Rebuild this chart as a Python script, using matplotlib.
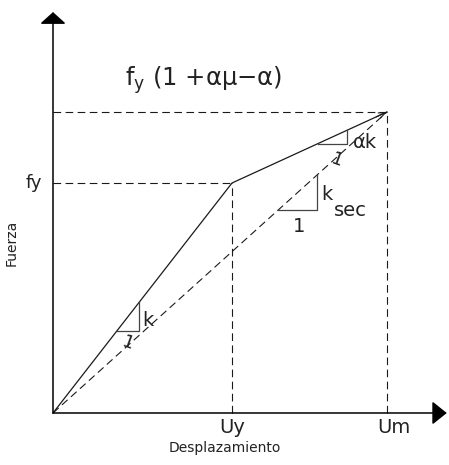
import matplotlib
matplotlib.use("Agg")
import matplotlib.pyplot as plt

# bilinear force-displacement idealisation (normalised: Uy = 1, fy = 1)
U_Y = 1.0
U_M = 1.866
F_Y = 1.0
F_M = 1.309
X_END = 2.20      # x-axis arrow tip
Y_END = 1.743     # y-axis arrow tip

K = F_Y / U_Y
ALPHA_K = (F_M - F_Y) / (U_M - U_Y)
K_SEC = F_M / U_M

INK = "#1a1a1a"
DASH = (5.5, 3.2)

plt.rcParams["lines.scale_dashes"] = False
plt.rcParams["font.family"] = ["DejaVu Sans"]

W, H, DPI = 449, 465, 100
fig = plt.figure(figsize=(W / DPI, H / DPI), dpi=DPI)
ax = fig.add_axes([0, 0, 1, 1])
# origin sits at pixel (53, 413); 179 px per unit in x, 230 px per unit in y
SX, SY, OX, OY = 179.0, 230.0, 53.0, 413.0
ax.set_xlim(-OX / SX, (W - OX) / SX)
ax.set_ylim(-(H - OY) / SY, OY / SY)
ax.set_axis_off()

# axes with arrowheads
ax.annotate("", xy=(0, Y_END), xytext=(0, 0),
            arrowprops=dict(arrowstyle="-|>,head_length=0.36,head_width=0.40",
                            color="black", lw=1.1, mutation_scale=20, shrinkA=0, shrinkB=0))
ax.annotate("", xy=(X_END, 0), xytext=(0, 0),
            arrowprops=dict(arrowstyle="-|>,head_length=0.45,head_width=0.36",
                            color="black", lw=1.1, mutation_scale=20, shrinkA=0, shrinkB=0))

# guide lines
ax.plot([0, U_Y], [F_Y, F_Y], color=INK, lw=0.8, dashes=DASH)
ax.plot([U_Y, U_Y], [0, F_Y], color=INK, lw=0.8, dashes=DASH)
ax.plot([0, U_M], [F_M, F_M], color=INK, lw=0.8, dashes=DASH)
ax.plot([U_M, U_M], [0, F_M], color=INK, lw=0.8, dashes=DASH)
ax.plot([0, U_M], [0, F_M], color=INK, lw=0.8, dashes=DASH)   # secant

# bilinear curve
ax.plot([0, U_Y, U_M], [0, F_Y, F_M], color=INK, lw=0.9)
ax.annotate("", xy=(U_M, F_M), xytext=(U_M - 0.06, F_M - 0.06 * ALPHA_K),
            arrowprops=dict(arrowstyle="->,head_length=0.5,head_width=0.2",
                            color=INK, lw=0.8, mutation_scale=10, shrinkA=0, shrinkB=0))


def slope_tri(x0, dx, y0, slope):
    ax.plot([x0, x0 + dx, x0 + dx], [y0, y0, y0 + slope * dx], color="#444444", lw=0.9)


slope_tri(0.356, 0.126, 0.356 * K, K)
slope_tri(1.480, 0.164, F_Y + ALPHA_K * (1.480 - U_Y), ALPHA_K)
slope_tri(1.259, 0.218, 1.259 * K_SEC, K_SEC)

tc = "#222222"
ax.text(0.497, 0.404, "k", fontsize=14, color=tc, ha="left", va="center")
ax.text(0.419, 0.304, "1", fontsize=13, color=tc, ha="center", va="center", rotation=-20)
ax.text(1.676, 1.178, "αk", fontsize=14, color=tc, ha="left", va="center")
ax.text(1.587, 1.098, "1", fontsize=13, color=tc, ha="center", va="center", rotation=-20)
ax.text(1.497, 0.950, "k", fontsize=14, color=tc, ha="left", va="center")
ax.text(1.570, 0.880, "sec", fontsize=14, color=tc, ha="left", va="center")
ax.text(1.374, 0.813, "1", fontsize=14, color=tc, ha="center", va="center")

ax.text(0.844, 1.448, r"$\mathregular{f_y}$ (1 +αμ−α)", fontsize=17.5, color=tc,
        ha="center", va="center")
ax.text(-0.058, F_Y, "fy", fontsize=13, color=tc, ha="right", va="center")
ax.text(U_Y, -0.022, "Uy", fontsize=14, color=tc, ha="center", va="top")
ax.text(U_M + 0.04, -0.022, "Um", fontsize=14, color=tc, ha="center", va="top")
ax.text(0.961, -0.152, "Desplazamiento", fontsize=10, color=tc, ha="center", va="center")
ax.text(-0.229, 0.739, "Fuerza", fontsize=10, color=tc, ha="center", va="center", rotation=90)

fig.savefig("out.png", dpi=DPI)
